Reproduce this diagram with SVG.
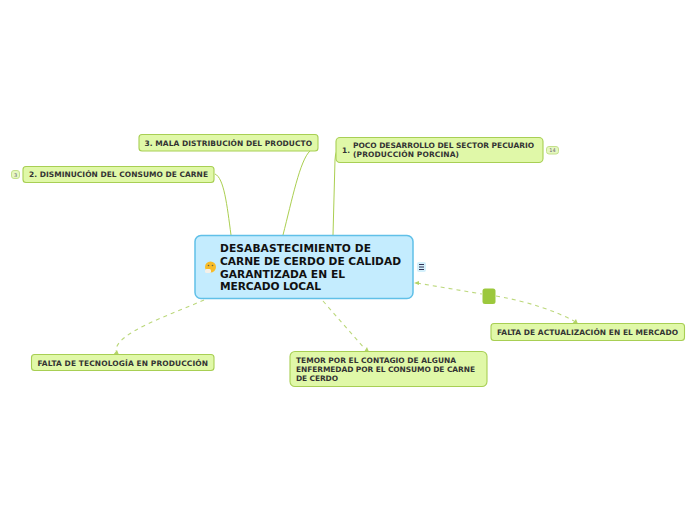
<svg xmlns="http://www.w3.org/2000/svg" width="696" height="520" viewBox="0 0 696 520">
<style>
text{font-family:"DejaVu Sans",Verdana,sans-serif;font-weight:bold}
.t{font-size:7.47px;fill:#333}
.m{font-size:10.66px;fill:#111}
.n{fill:#e0f8a8;stroke:#a8cf54;stroke-width:1.1}
.c{fill:none;stroke:#a0c83c;stroke-width:.9}
.d{fill:none;stroke:#bcd87c;stroke-width:1.1;stroke-dasharray:4 4}
.a{fill:#b4d468}
.b{fill:#e6f8c0;stroke:#c4e08c;stroke-width:1}
.bt{font-size:5px;font-weight:normal;fill:#667}
</style>
<rect width="696" height="520" fill="#fff"/>
<g id="connectors">
<path class="c" d="M231 235C227 205 224 178 215 174"/>
<path class="c" d="M283 235C292 200 300 160 310 151"/>
<path class="c" d="M333 235L335 160Q335 155 337 150"/>
<path class="d" d="M204 300C170 315 115 333 116 351"/>
<path class="a" d="M113 355l6 0l-2 -5z"/>
<path class="d" d="M323 301L365 349"/>
<path class="a" d="M364 352l5 0l-2 -5z"/>
<path class="d" d="M417 283L482 294"/>
<path class="a" d="M414 283l5 -2l0 4z"/>
<path class="d" d="M496 296C530 302 555 311 574 321"/>
<path class="a" d="M572 324l6 0l-2 -5z"/>
</g>
<g id="central">
<rect x="195" y="235.500" width="218" height="63" rx="6" fill="#c4ecfe" stroke="#60c0e8" stroke-width="1.500"/>
<text class="m" x="220" y="252" textLength="151">DESABASTECIMIENTO DE</text>
<text class="m" x="220" y="265" textLength="181">CARNE DE CERDO DE CALIDAD</text>
<text class="m" x="220" y="277.500" textLength="125">GARANTIZADA EN EL</text>
<text class="m" x="220" y="290" textLength="101">MERCADO LOCAL</text>
<g id="emoji">
<circle cx="210.500" cy="267" r="5.500" fill="#f8bc28"/>
<circle cx="208.500" cy="265.500" r="0.800" fill="#664"/>
<circle cx="212.500" cy="265.500" r="0.800" fill="#664"/>
<rect x="205" y="269" width="6" height="4" rx="1.500" fill="#f4f0e8"/>
</g>
<g id="notes">
<rect x="417" y="262" width="9" height="10" rx="2" fill="#d4f0fc"/>
<path d="M419 264.500h5M419 267h5M419 269.500h5" stroke="#335" stroke-width="1"/>
</g>
</g>
<g id="n1">
<rect class="n" x="336" y="137.500" width="207" height="25" rx="4"/>
<text class="t" x="342" y="153">1.</text>
<text class="t" x="353" y="148" textLength="181">POCO DESARROLLO DEL SECTOR PECUARIO</text>
<text class="t" x="353" y="157" textLength="106">(PRODUCCIÓN PORCINA)</text>
<rect class="b" x="546.500" y="146.500" width="12" height="7.500" rx="2.500"/>
<text class="bt" x="552.500" y="152" text-anchor="middle">14</text>
</g>
<g id="n2">
<rect class="n" x="23" y="166.500" width="191" height="16" rx="3"/>
<text class="t" x="29" y="177" textLength="179">2. DISMINUCIÓN DEL CONSUMO DE CARNE</text>
<rect class="b" x="11.500" y="170.500" width="8" height="8" rx="2.500"/>
<text class="bt" x="15.500" y="176.500" text-anchor="middle">3</text>
</g>
<g id="n3">
<rect class="n" x="139" y="134.500" width="179" height="16.500" rx="3"/>
<text class="t" x="144.500" y="146" textLength="167.500">3. MALA DISTRIBUCIÓN DEL PRODUCTO</text>
</g>
<g id="n4">
<rect class="n" x="31.500" y="354.500" width="182.500" height="16" rx="3"/>
<text class="t" x="37.500" y="365.500" textLength="170.500">FALTA DE TECNOLOGÍA EN PRODUCCIÓN</text>
</g>
<g id="n5">
<rect class="n" x="290" y="351.500" width="197" height="35" rx="5"/>
<text class="t" x="296" y="363" textLength="160">TEMOR POR EL CONTAGIO DE ALGUNA</text>
<text class="t" x="296" y="372" textLength="179">ENFERMEDAD POR EL CONSUMO DE CARNE</text>
<text class="t" x="296" y="381" textLength="42">DE CERDO</text>
</g>
<g id="n6">
<rect class="n" x="491" y="323.500" width="193.500" height="17" rx="3"/>
<text class="t" x="497" y="335" textLength="181">FALTA DE ACTUALIZACIÓN EN EL MERCADO</text>
</g>
<g id="relationship">
<rect x="482.500" y="288.500" width="13" height="15.500" rx="2.500" fill="#9cc83c"/>
</g>
</svg>
